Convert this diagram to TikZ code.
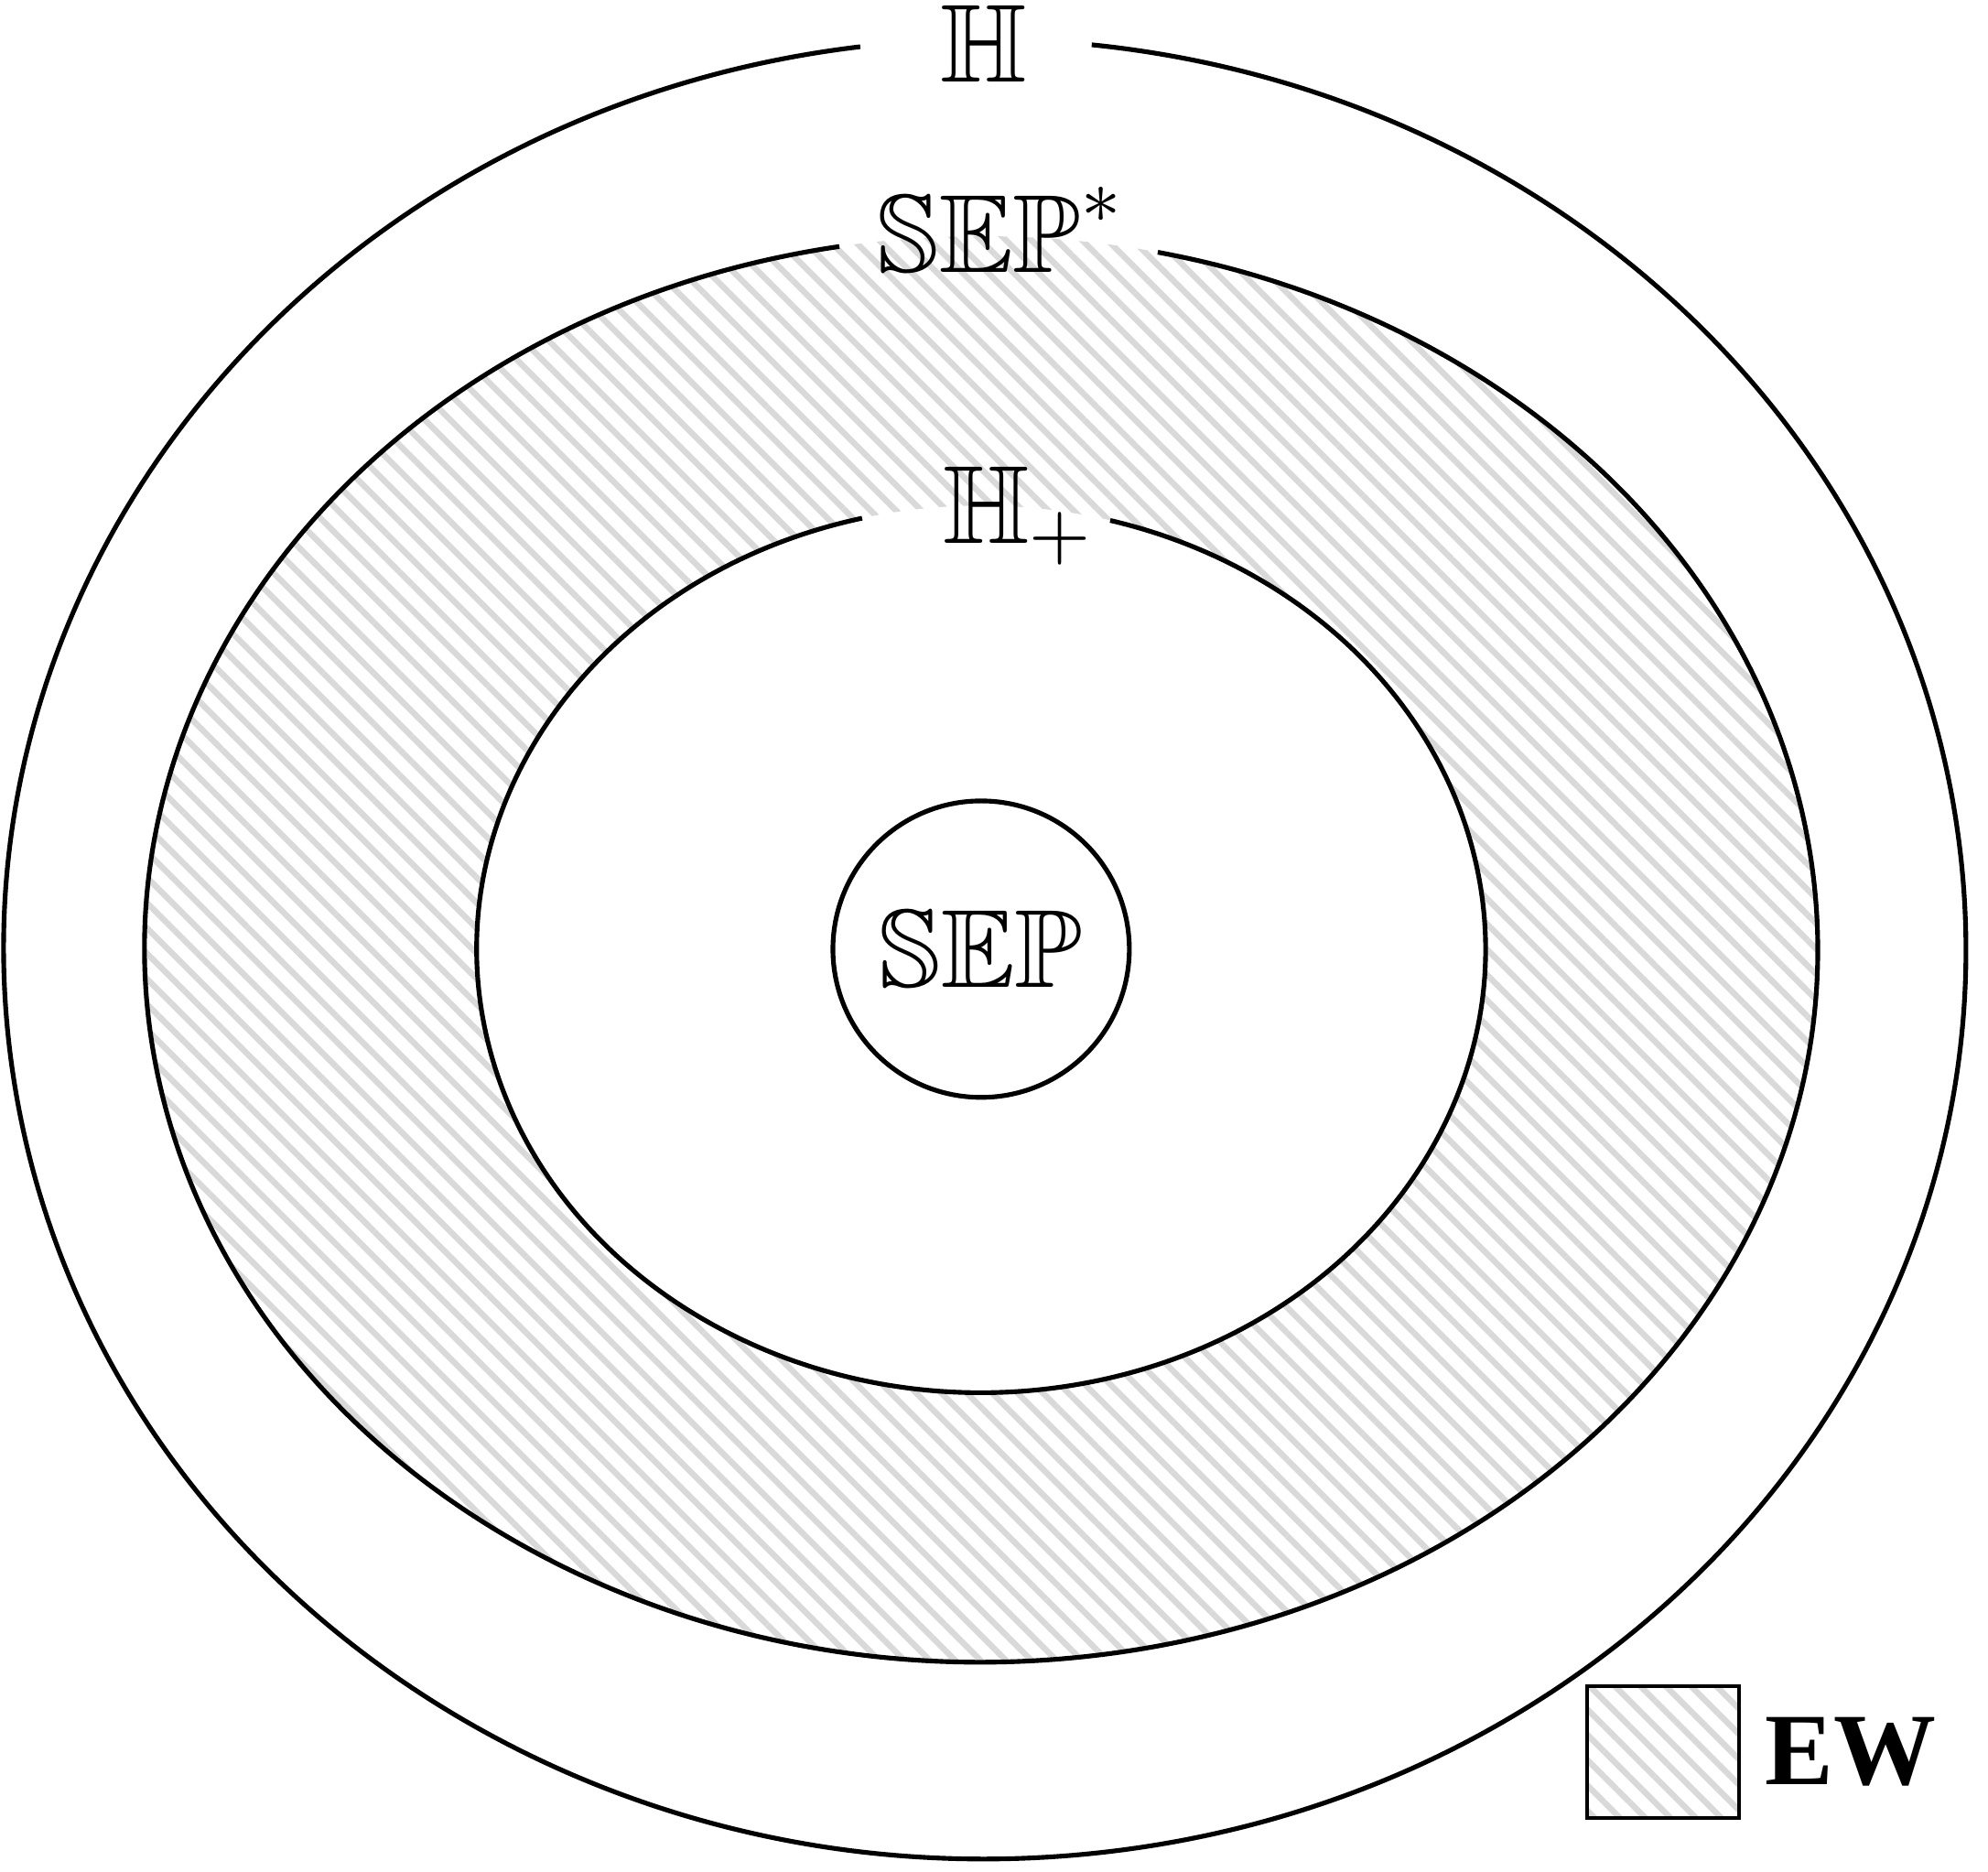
\documentclass[tikz,border=0pt]{standalone}
\usepackage{amssymb}
\usepackage{fontspec}
\newfontfamily\ewfont{Liberation Serif}
\usetikzlibrary{positioning, patterns.meta}

\tikzset{
	ew/.style={pattern={Lines[angle=-45,distance=2.1pt,line width=0.7pt]},pattern color=black!15},
	lbl/.style={inner sep=0pt,font=\fontsize{13}{15}\selectfont},
}

\begin{document}
\begin{tikzpicture}[line width=0.55pt]
	\useasboundingbox (-4.038,-3.797) rectangle (4.144,3.906);
	\fill[ew,even odd rule] (0,0) ellipse [x radius=3.443,y radius=2.934] (0,0) ellipse [x radius=2.076,y radius=1.825];
	\draw (0.015,0) ++(97.29:4.038 and 3.744) arc[start angle=97.29,end angle=443.74,x radius=4.038,y radius=3.744];
	\draw (0,0) ++(99.76:3.443 and 2.934) arc[start angle=99.76,end angle=437.81,x radius=3.443,y radius=2.934];
	\draw (0,0) ++(103.65:2.076 and 1.825) arc[start angle=103.65,end angle=435.17,x radius=2.076,y radius=1.825];
	\draw (0,0) circle (0.61);
	\draw node (h)[lbl] at (0.01,3.725) {$\mathbb{H}$};
	\draw node (sepstar)[lbl,anchor=base] at (0.083,2.784) {$\mathbb{SEP}^*$};
	\draw node (hplus)[lbl,anchor=base] at (0.156,1.672) {$\mathbb{H}_+$};
	\draw node (sep)[lbl] at (0,0) {$\mathbb{SEP}$};
	\draw node (key)[draw,line width=0.4pt,ew,minimum width=0.625cm,minimum height=0.542cm] at (2.807,-3.304) {};
	\draw node (ewtext)[right=0.09cm of key,inner sep=0pt,font=\ewfont\bfseries\fontsize{12}{14}\selectfont] {EW};
\end{tikzpicture}
\end{document}
